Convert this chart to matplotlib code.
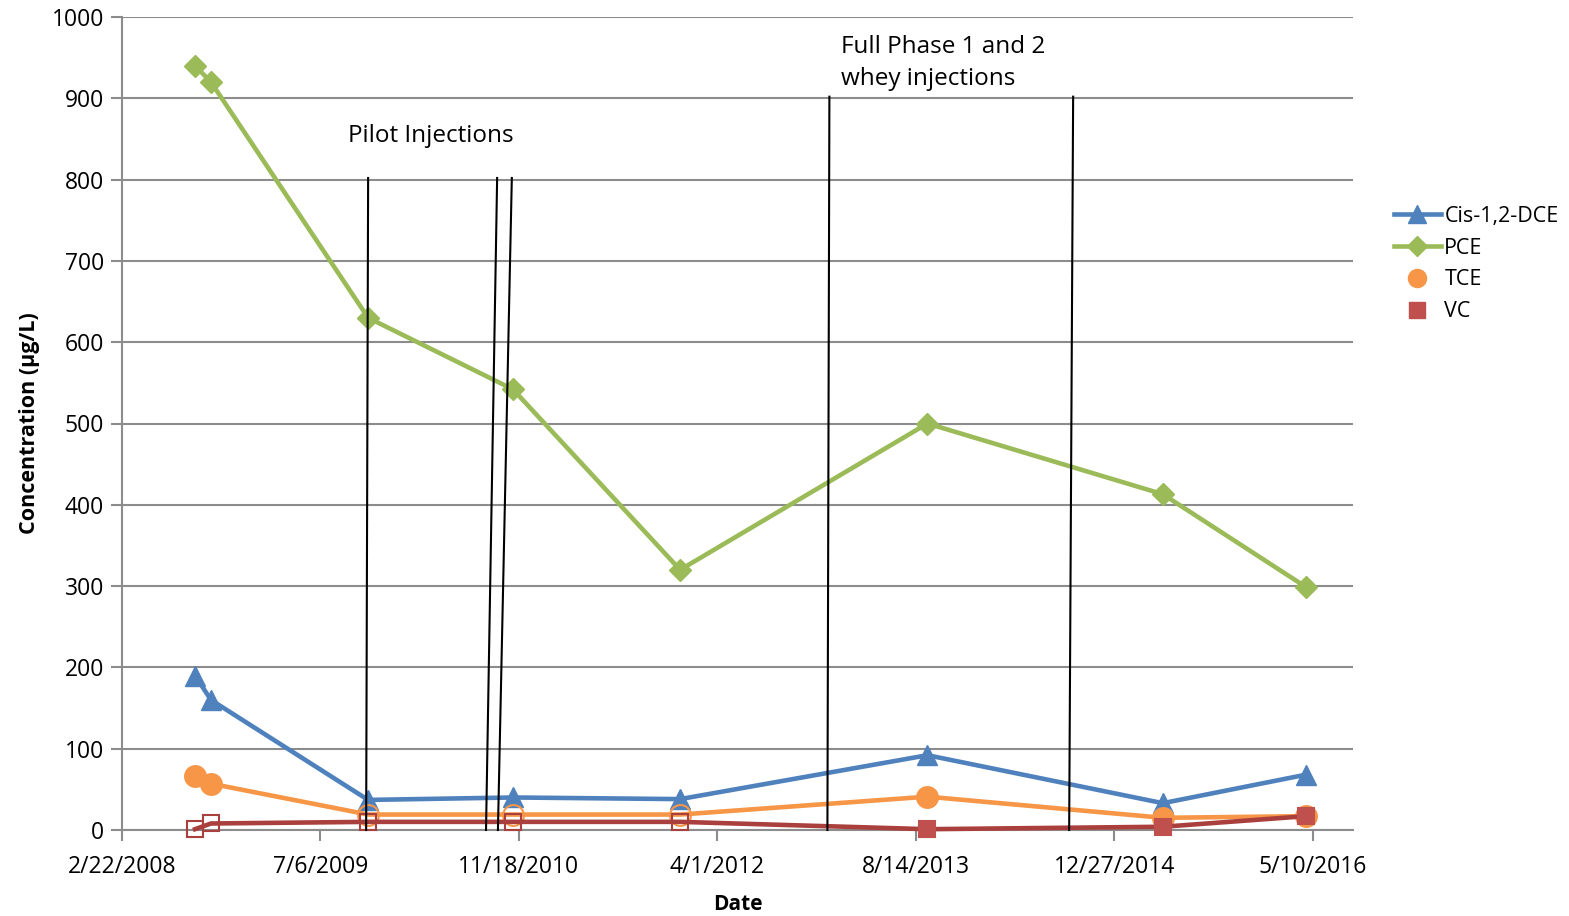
import datetime as dt
import matplotlib
matplotlib.use('Agg')
import matplotlib.pyplot as plt
from matplotlib.lines import Line2D

# sample dates and concentrations (ug/L)
dates = ['2008-08-24', '2008-10-03', '2009-11-03', '2010-11-03',
         '2011-12-29', '2013-09-12', '2015-04-28', '2016-04-22']
cis_dce = [190, 160, 37, 40, 38, 92, 33, 68]
pce = [940, 920, 630, 542, 320, 500, 413, 299]
tce = [66, 57, 19, 19, 19, 41, 15, 17]
vc = [1, 8, 10, 10, 10, 1, 4, 17]
# False = hollow marker (non-detect)
tce_detect = [True, True, False, False, False, True, True, True]
vc_detect = [False, False, False, False, False, True, True, True]

# injection event lines: (top date, top value, bottom date, bottom value)
injections = [
    ('2009-11-03', 802, '2009-10-29', 0),
    ('2010-09-24', 802, '2010-08-27', 0),
    ('2010-10-31', 802, '2010-09-26', 0),
    ('2013-01-08', 902, '2013-01-03', 0),
    ('2014-09-14', 902, '2014-09-04', 0),
]
x_start = '2008-02-22'
x_end = '2016-08-19'
tick_step_days = 500

FONT = ['Open Sans', 'DejaVu Sans']
plt.rcParams['font.family'] = FONT

BLUE = '#4F81BD'
GREEN = '#9BBB59'
ORANGE = '#F79646'
RED = '#C0504D'
RED_LINE = '#A9403D'
GRID = '#8C8C8C'


def d(s):
    return dt.datetime.strptime(s, '%Y-%m-%d')


def main():
    x = [d(s) for s in dates]
    fig = plt.figure(figsize=(15.69, 9.16), dpi=100)
    fig.subplots_adjust(left=122 / 1569, right=1353 / 1569,
                        top=1 - 17 / 916, bottom=1 - 830 / 916)
    ax = fig.add_subplot(111)

    lw = 3.3
    ax.plot(x, cis_dce, color=BLUE, lw=lw, marker='^', ms=15,
            mfc=BLUE, mec=BLUE, zorder=3, clip_on=False)
    ax.plot(x, pce, color=GREEN, lw=lw, marker='D', ms=11,
            mfc=GREEN, mec=GREEN, zorder=3, clip_on=False)

    # TCE
    ax.plot(x, tce, color=ORANGE, lw=lw, zorder=3, clip_on=False)
    for xi, yi, det in zip(x, tce, tce_detect):
        ax.plot([xi], [yi], marker='o', ms=15, ls='none', zorder=4,
                mfc=ORANGE if det else 'none', mec=ORANGE, mew=1.5,
                clip_on=False)
    # VC
    ax.plot(x, vc, color=RED_LINE, lw=lw, zorder=5, clip_on=False)
    for xi, yi, det in zip(x, vc, vc_detect):
        ax.plot([xi], [yi], marker='s', ms=12, ls='none', zorder=6,
                mfc=RED if det else 'none', mec=RED if det else RED_LINE,
                mew=1.5, clip_on=False)

    for t_date, t_val, b_date, b_val in injections:
        ax.plot([d(t_date), d(b_date)], [t_val, b_val], color='black',
                lw=1.5, zorder=7, clip_on=False)

    ax.text(d('2009-09-13'), 854, 'Pilot Injections', fontsize=17.5,
            va='center', ha='left')
    ax.text(d('2013-02-07'), 943, 'Full Phase 1 and 2\nwhey injections',
            fontsize=17.5, va='center', ha='left', linespacing=1.45)

    # axes
    x0, x1 = d(x_start), d(x_end)
    ax.set_xlim(x0, x1)
    ax.set_ylim(0, 1000)
    ticks = []
    t = x0
    while t <= x1:
        ticks.append(t)
        t += dt.timedelta(days=tick_step_days)
    ax.set_xticks(ticks)
    ax.set_xticklabels([f'{t.month}/{t.day}/{t.year}' for t in ticks])
    ax.set_yticks(range(0, 1001, 100))
    ax.tick_params(axis='both', labelsize=16.5, color=GRID, width=1.5,
                   length=8, direction='out')
    ax.tick_params(axis='x', pad=10)
    ax.tick_params(axis='y', pad=5)
    ax.grid(axis='y', color=GRID, lw=1.5)
    ax.set_axisbelow(True)
    for side in ['top', 'right']:
        ax.spines[side].set_visible(False)
    for side in ['left', 'bottom']:
        ax.spines[side].set_color(GRID)
        ax.spines[side].set_linewidth(1.5)

    ax.set_xlabel('Date', fontsize=15, fontweight='bold', labelpad=11)
    ax.set_ylabel('Concentration (µg/L)', fontsize=15.5, fontweight='bold',
                  labelpad=8)

    handles = [
        Line2D([], [], color=BLUE, lw=lw, marker='^', ms=13),
        Line2D([], [], color=GREEN, lw=lw, marker='D', ms=10),
        Line2D([], [], ls='none', color=ORANGE, marker='o', ms=13),
        Line2D([], [], ls='none', color=RED, marker='s', ms=12),
    ]
    fig.legend(handles, ['Cis-1,2-DCE', 'PCE', 'TCE', 'VC'],
               loc='center left', bbox_to_anchor=(1383 / 1569, 1 - 264 / 916),
               frameon=False, fontsize=15.5, handlelength=2.2,
               handletextpad=0.15, labelspacing=0.5, borderpad=0)

    fig.savefig('out.png', dpi=100)


if __name__ == '__main__':
    main()
